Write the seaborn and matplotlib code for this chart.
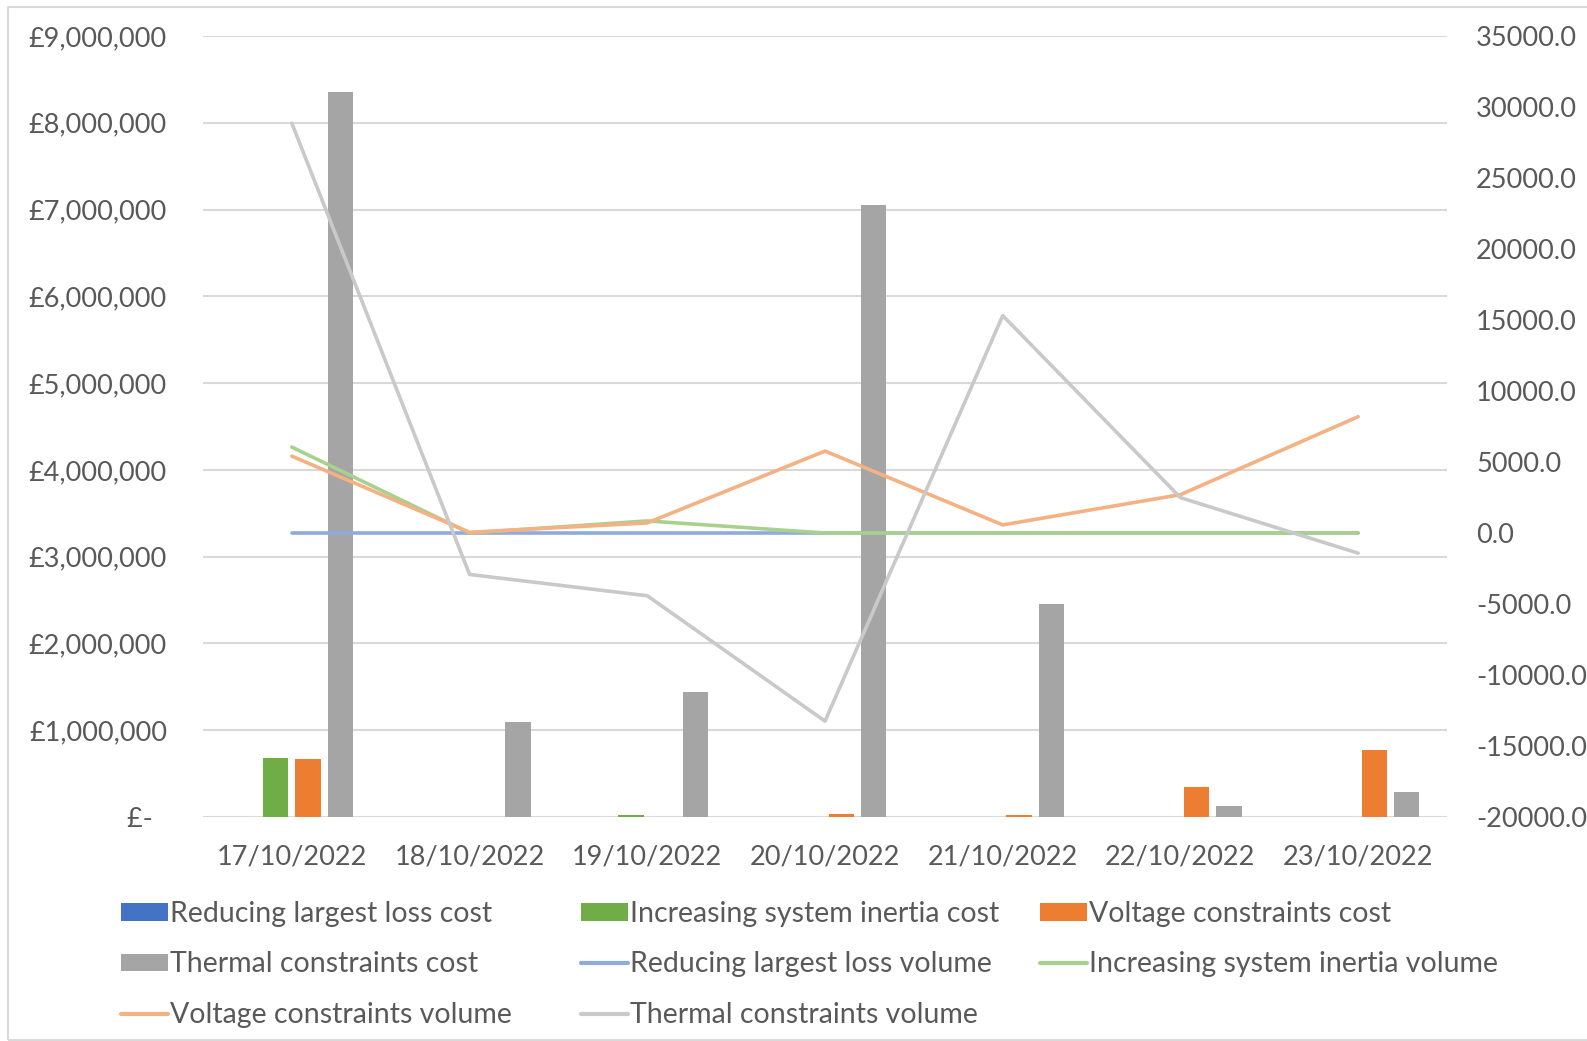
import matplotlib
matplotlib.use("Agg")
import matplotlib.pyplot as plt
from matplotlib.patches import Rectangle, Patch
from matplotlib.lines import Line2D
import seaborn as sns
import pandas as pd

# ---- data -------------------------------------------------------------
dates = ["17/10/2022", "18/10/2022", "19/10/2022", "20/10/2022",
         "21/10/2022", "22/10/2022", "23/10/2022"]

reducing_loss_cost = [0, 0, 0, 0, 0, 0, 0]
inertia_cost = [680000, 0, 20000, 0, 0, 0, 0]
voltage_cost = [665000, 0, 5000, 30000, 27000, 340000, 770000]
thermal_cost = [8350000, 1090000, 1435000, 7050000, 2450000, 127000, 285000]

reducing_loss_volume = [0, 0, 0, 0, 0, 0, 0]
inertia_volume = [6050, 0, 850, 0, 0, 0, 0]
voltage_volume = [5410, 50, 710, 5770, 570, 2700, 8190]
thermal_volume = [28850, -2920, -4420, -13250, 15310, 2490, -1420]

cost_names = ["Reducing largest loss cost", "Increasing system inertia cost",
              "Voltage constraints cost", "Thermal constraints cost"]
volume_names = ["Reducing largest loss volume", "Increasing system inertia volume",
                "Voltage constraints volume", "Thermal constraints volume"]

bar_colors = ["#4472C4", "#70AD47", "#ED7D31", "#A5A5A5"]
line_colors = ["#8FAADC", "#A9D18E", "#F4B183", "#C9C9C9"]

# ---- long-form tables -------------------------------------------------
cost_series = [reducing_loss_cost, inertia_cost, voltage_cost, thermal_cost]
volume_series = [reducing_loss_volume, inertia_volume, voltage_volume, thermal_volume]

cost_df = pd.DataFrame([
    {"date": d, "series": name, "cost": v}
    for name, vals in zip(cost_names, cost_series)
    for d, v in zip(dates, vals)
])
volume_df = pd.DataFrame([
    {"pos": i, "series": name, "volume": v}
    for name, vals in zip(volume_names, volume_series)
    for i, v in enumerate(vals)
])

# ---- figure -----------------------------------------------------------
sns.set_theme(style="white")
plt.rcParams["font.family"] = ["Lato", "DejaVu Sans"]
text_color = "#595959"
grid_color = "#D9D9D9"
fs = 19.5
legend_fs = 20.5

W, H = 1587, 1041
fig = plt.figure(figsize=(W / 100, H / 100), dpi=100)
ax = fig.add_axes([203 / W, 1 - 817 / H, (1447 - 203) / W, (817 - 36) / H])

sns.barplot(data=cost_df, x="date", y="cost", hue="series", order=dates,
            hue_order=cost_names, palette=bar_colors, width=0.728, gap=0.22,
            errorbar=None, linewidth=0, legend=False, saturation=1, ax=ax)

ax.set_ylim(0, 9_000_000)
ax.set_yticks(range(0, 9_000_001, 1_000_000))
ax.set_yticklabels(["£-  "] + [f"£{v:,}" for v in range(1_000_000, 9_000_001, 1_000_000)])
ax.grid(axis="y", color=grid_color, linewidth=1.5)
ax.set_axisbelow(True)
ax.set_xlabel("")
ax.set_ylabel("")
for s in ax.spines.values():
    s.set_visible(False)
ax.tick_params(axis="y", length=0, pad=26, labelsize=fs, labelcolor=text_color)
ax.tick_params(axis="x", length=0, pad=20, labelsize=fs, labelcolor=text_color)

ax2 = ax.twinx()
sns.lineplot(data=volume_df, x="pos", y="volume", hue="series",
             hue_order=volume_names, palette=line_colors, linewidth=2.6,
             legend=False, sort=False, ax=ax2)
ax2.set_ylim(-20000, 35000)
ax2.set_yticks(range(-20000, 35001, 5000))
ax2.set_yticklabels([f"{v:.1f}" for v in range(-20000, 35001, 5000)])
ax2.set_ylabel("")
ax2.set_xlabel("")
for s in ax2.spines.values():
    s.set_visible(False)
ax2.tick_params(axis="y", length=0, pad=21, labelsize=fs, labelcolor=text_color)
ax.set_xlim(-0.5, 6.5)

# ---- legend (three fixed-width columns, filled row by row) -------------
handles = [Patch(facecolor=c, edgecolor="none") for c in bar_colors] + \
          [Line2D([], [], color=c, linewidth=3) for c in line_colors]
labels = cost_names + volume_names
col_x = [121, 581, 1040]
for col in range(3):
    idx = list(range(col, len(labels), 3))
    fig.legend([handles[i] for i in idx], [labels[i] for i in idx],
               loc="upper left", bbox_to_anchor=(col_x[col] / W, 1 - 901 / H),
               frameon=False, fontsize=legend_fs, labelcolor=text_color,
               handlelength=1.65, handleheight=0.55, handletextpad=0.08,
               labelspacing=0.86, borderpad=0, borderaxespad=0)

# outer chart border
fig.patches.append(Rectangle((8 / W, 1 / H), 1.0, 1 - 8 / H,
                             transform=fig.transFigure, fill=False,
                             edgecolor=grid_color, linewidth=1.5))

fig.savefig("out.png", dpi=100)
